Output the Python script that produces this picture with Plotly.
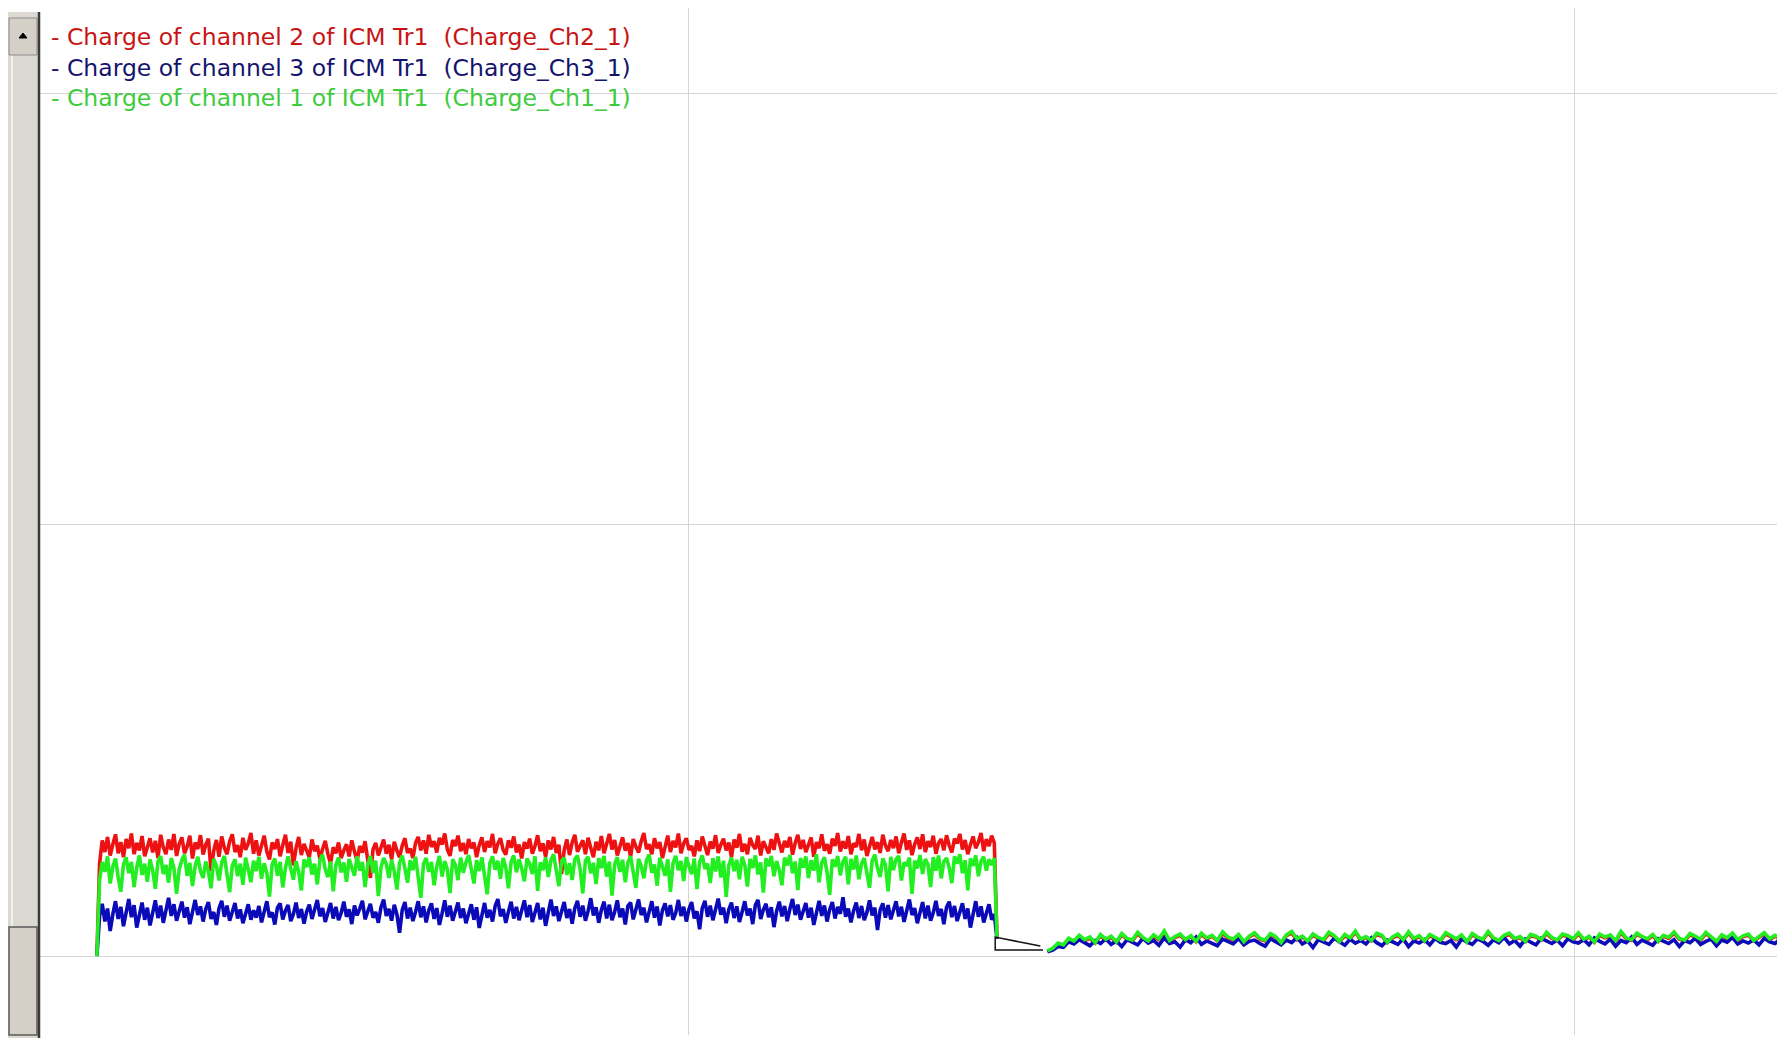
import numpy as np
import plotly.graph_objects as go

# ---- data (charge, arbitrary units) ----
t1_start, t1_step = 331, 3      # first acquisition block
t2_start, t2_step = 1405, 6     # second acquisition block

red1 = [0, 214, 268, 241, 276, 233, 259, 282, 238, 264, 229, 271, 250, 284, 236, 262, 245, 278, 231, 256,
        273, 240, 267, 227, 281, 252, 236, 270, 246, 283, 232, 260, 275, 238, 254, 279, 226, 263, 248, 280,
        235, 258, 272, 197, 244, 269, 230, 277, 251, 236, 266, 282, 241, 257, 229, 274, 246, 261, 285, 237,
        268, 233, 255, 279, 242, 224, 263, 248, 271, 231, 257, 281, 239, 265, 210, 250, 276, 234, 260, 245,
        229, 270, 243, 256, 225, 248, 267, 236, 214, 252, 238, 263, 227, 245, 259, 231, 268, 242, 221, 255,
        240, 266, 228, 181, 247, 262, 233, 251, 270, 237, 258, 224, 265, 244, 229, 256, 273, 239, 249, 227,
        262, 276, 245, 268, 237, 281, 253, 266, 240, 274, 258, 284, 247, 232, 269, 255, 279, 243, 262, 236,
        271, 250, 263, 229, 257, 275, 241, 266, 252, 283, 238, 260, 273, 246, 235, 268, 251, 277, 240, 258,
        226, 264, 249, 272, 237, 255, 280, 243, 261, 230, 268, 247, 276, 239, 258, 190, 245, 270, 234, 263,
        281, 242, 257, 268, 236, 274, 251, 229, 265, 245, 278, 238, 260, 283, 247, 269, 233, 256, 275, 244,
        262, 230, 271, 253, 240, 266, 285, 248, 259, 236, 273, 250, 264, 227, 258, 279, 241, 267, 252, 284,
        238, 261, 273, 246, 255, 231, 268, 243, 277, 256, 234, 265, 249, 280, 239, 258, 272, 245, 263, 229,
        270, 251, 283, 242, 260, 236, 274, 257, 248, 279, 233, 266, 254, 238, 271, 246, 284, 259, 240, 267,
        252, 276, 235, 262, 281, 248, 269, 241, 257, 275, 230, 264, 250, 282, 244, 259, 237, 272, 255, 285,
        242, 266, 249, 278, 236, 261, 253, 283, 245, 270, 232, 258, 276, 247, 264, 239, 281, 256, 243, 269,
        250, 277, 238, 263, 284, 246, 268, 234, 259, 275, 248, 282, 241, 266, 253, 279, 237, 262, 271, 245,
        280, 256, 240, 272, 261, 283, 247, 269, 236, 258, 277, 250, 264, 285, 243, 271, 255, 279, 262, 40]

green1 = [0, 176, 218, 195, 231, 168, 207, 226, 183, 149, 212, 229, 192, 218, 160, 205, 233, 188, 214, 172,
          224, 199, 156, 219, 232, 190, 211, 170, 227, 204, 144, 201, 222, 235, 186, 216, 162, 208, 230, 197,
          181, 219, 196, 157, 225, 209, 175, 217, 232, 189, 148, 210, 224, 185, 214, 165, 228, 200, 171, 221,
          197, 230, 179, 215, 193, 138, 212, 226, 186, 218, 159, 204, 231, 203, 177, 220, 195, 152, 224, 206,
          229, 189, 214, 166, 222, 235, 201, 183, 219, 150, 211, 228, 194, 217, 172, 225, 207, 186, 231, 198,
          218, 160, 210, 232, 193, 221, 139, 205, 227, 213, 181, 223, 196, 154, 216, 233, 203, 170, 222, 199,
          230, 188, 135, 213, 227, 195, 218, 164, 208, 232, 184, 220, 200, 146, 224, 211, 176, 228, 193, 217,
          234, 202, 168, 222, 197, 229, 186, 143, 215, 231, 200, 221, 179, 227, 205, 157, 218, 233, 194, 224,
          203, 173, 226, 214, 190, 231, 151, 217, 199, 229, 183, 222, 236, 197, 162, 220, 228, 188, 215, 176,
          224, 233, 201, 145, 221, 230, 192, 216, 167, 227, 204, 232, 184, 219, 140, 212, 229, 195, 223, 171,
          217, 231, 198, 158, 225, 209, 180, 222, 235, 193, 212, 163, 228, 206, 186, 224, 149, 215, 232, 199,
          220, 174, 229, 208, 190, 226, 155, 218, 233, 202, 214, 169, 227, 196, 231, 182, 221, 137, 210, 228,
          197, 223, 178, 230, 212, 161, 225, 204, 233, 189, 217, 147, 226, 208, 232, 185, 220, 199, 164, 228,
          210, 234, 192, 219, 153, 227, 205, 231, 181, 222, 198, 236, 171, 216, 229, 194, 142, 224, 207, 232,
          187, 219, 230, 166, 225, 201, 233, 178, 214, 227, 196, 158, 221, 235, 204, 183, 226, 211, 150, 230,
          199, 224, 232, 175, 217, 209, 228, 144, 221, 203, 234, 190, 225, 212, 160, 229, 198, 233, 180, 219,
          227, 205, 169, 231, 214, 236, 192, 222, 152, 226, 209, 233, 185, 220, 230, 198, 224, 211, 227, 42]

blue1 = [0, 92, 121, 80, 110, 58, 97, 127, 86, 114, 69, 103, 132, 90, 118, 66, 100, 124, 84, 112,
         71, 98, 129, 88, 117, 77, 107, 135, 93, 120, 82, 101, 126, 89, 113, 74, 105, 130, 95, 115,
         80, 109, 125, 86, 102, 72, 111, 128, 91, 117, 82, 104, 123, 87, 108, 76, 99, 120, 84, 106,
         89, 116, 78, 107, 127, 90, 101, 73, 112, 122, 85, 105, 118, 81, 97, 124, 88, 109, 75, 103,
         119, 86, 107, 130, 92, 111, 79, 104, 123, 87, 114, 83, 100, 126, 91, 108, 74, 117, 94, 110,
         128, 85, 105, 121, 89, 102, 77, 113, 131, 93, 109, 82, 119, 96, 54, 107, 125, 87, 112, 81,
         102, 127, 90, 115, 78, 106, 122, 86, 111, 72, 99, 129, 91, 117, 82, 104, 124, 88, 110, 76,
         101, 120, 84, 113, 65, 98, 123, 89, 107, 80, 116, 132, 92, 109, 77, 103, 126, 87, 114, 83,
         105, 129, 90, 118, 79, 100, 123, 85, 112, 70, 106, 131, 93, 115, 81, 101, 125, 88, 109, 75,
         111, 128, 91, 117, 82, 104, 134, 94, 113, 77, 107, 126, 87, 119, 83, 102, 129, 90, 110, 73,
         116, 124, 85, 108, 131, 95, 112, 78, 103, 127, 89, 115, 71, 106, 122, 92, 118, 84, 100, 130,
         93, 114, 80, 109, 125, 87, 104, 62, 111, 128, 91, 117, 83, 105, 133, 96, 112, 76, 108, 124,
         88, 115, 79, 102, 127, 94, 110, 74, 118, 130, 86, 107, 121, 90, 113, 67, 104, 126, 92, 116,
         81, 109, 132, 95, 119, 84, 106, 123, 89, 112, 72, 103, 128, 93, 117, 80, 108, 125, 87, 114,
         98, 136, 91, 110, 78, 105, 124, 88, 116, 83, 101, 129, 94, 112, 60, 107, 122, 89, 118, 85,
         103, 127, 92, 114, 79, 108, 131, 95, 111, 76, 104, 125, 87, 117, 82, 100, 128, 93, 109, 74,
         113, 126, 90, 116, 81, 105, 122, 86, 110, 66, 99, 127, 91, 115, 78, 102, 120, 84, 97, 40]

green2 = [12, 18, 30, 26, 41, 35, 48, 38, 44, 31, 50, 39, 46, 33, 52, 41, 37, 55, 43, 35,
          49, 40, 58, 36, 45, 51, 38, 47, 34, 53, 42, 48, 36, 56, 44, 39, 50, 33, 46, 54,
          41, 37, 52, 45, 31, 49, 57, 40, 46, 35, 51, 43, 38, 55, 47, 34, 50, 42, 58, 39,
          45, 36, 53, 48, 32, 44, 51, 38, 56, 41, 47, 35, 50, 43, 37, 54, 46, 40, 49, 33,
          52, 44, 39, 57, 42, 36, 48, 53, 41, 45, 34, 50, 46, 38, 55, 43, 37, 51, 47, 40,
          54, 39, 46, 33, 51, 44, 49, 36, 57, 42, 38, 53, 45, 40, 50, 35, 48, 43, 56, 41,
          37, 52, 46, 39, 55, 44, 34, 49, 42, 53, 38, 47, 51, 36, 45, 54, 40, 48, 43, 50]

blue2 = [10, 14, 22, 20, 33, 28, 38, 30, 24, 36, 29, 40, 27, 35, 22, 38, 31, 26, 41, 30,
         36, 25, 42, 29, 33, 21, 38, 31, 44, 27, 35, 30, 24, 39, 33, 28, 41, 26, 34, 37,
         29, 23, 40, 33, 26, 37, 31, 43, 28, 35, 20, 38, 32, 27, 41, 34, 25, 39, 30, 36,
         28, 42, 31, 24, 37, 33, 27, 40, 22, 35, 30, 38, 26, 41, 32, 29, 36, 21, 39, 33,
         27, 40, 34, 25, 38, 31, 43, 28, 36, 23, 39, 32, 26, 41, 35, 29, 37, 24, 40, 33,
         30, 38, 26, 42, 34, 28, 39, 23, 36, 31, 44, 27, 37, 32, 25, 40, 35, 29, 38, 22,
         36, 31, 41, 27, 34, 39, 24, 37, 32, 43, 28, 35, 30, 38, 26, 41, 33, 29, 39, 34]

red2 = [11, 16, 27, 24, 38, 33, 45, 36, 41, 30, 47, 37, 43, 32, 49, 39, 35, 52, 40, 34,
        46, 38, 54, 35, 43, 48, 36, 45, 33, 50, 40, 46, 35, 52, 42, 37, 48, 32, 44, 51,
        39, 35, 49, 43, 30, 47, 53, 38, 44, 34, 48, 41, 36, 52, 45, 33, 47, 40, 55, 37,
        43, 35, 50, 46, 31, 42, 48, 37, 53, 39, 45, 34, 47, 41, 36, 51, 44, 38, 46, 32,
        49, 42, 37, 54, 40, 35, 46, 50, 39, 43, 33, 47, 44, 37, 52, 41, 36, 48, 45, 38,
        51, 37, 44, 32, 48, 42, 46, 35, 54, 40, 36, 50, 43, 38, 47, 34, 46, 41, 53, 39,
        35, 49, 44, 37, 52, 42, 33, 47, 40, 50, 36, 45, 48, 35, 43, 51, 38, 46, 41, 47]

# black marker drawn in the gap between the two blocks
gap_t = [1397, 1346, 1346, 1400]
gap_v = [23, 44, 14, 14]

labels = ["- Charge of channel 2 of ICM Tr1  (Charge_Ch2_1)",
          "- Charge of channel 3 of ICM Tr1  (Charge_Ch3_1)",
          "- Charge of channel 1 of ICM Tr1  (Charge_Ch1_1)"]
label_colors = ["#c81414", "#14146e", "#3ccc3c"]

x_grid = [1000, 2000]
y_grid = [0, 1000, 2000]

# ---- figure geometry ----
# the page body has an 8px margin, so the figure is drawn 8px right and down
OX, OY = 8, 8
W, H = 1785 - OX, 1038 - OY


def px(x):   # screen x -> paper x
    return (x - OX) / W


def py(y):   # screen y -> paper y
    return 1 - (y - OY) / H


def times(start, step, vals):
    return list(start + step * np.arange(len(vals)))


def join(a, b):
    return list(a) + [None] + list(b)


series = [("Charge_Ch2_1", red1, red2, "#ee1111"),
          ("Charge_Ch3_1", blue1, blue2, "#0a0ab8"),
          ("Charge_Ch1_1", green1, green2, "#22ee22")]

fig = go.Figure()
for name, v1, v2, col in series:
    fig.add_trace(go.Scatter(
        x=join(times(t1_start, t1_step, v1), times(t2_start, t2_step, v2)),
        y=join(v1, v2), mode="lines", name=name,
        line=dict(color=col, width=3.6)))
fig.add_trace(go.Scatter(x=gap_t, y=gap_v, mode="lines",
                         line=dict(color="#111111", width=1.5), showlegend=False))

for i, (txt, col) in enumerate(zip(labels, label_colors)):
    fig.add_annotation(text=txt, xref="paper", yref="paper",
                       x=px(49), y=py(37.5 + 30.3 * i),
                       xanchor="left", yanchor="middle", showarrow=False,
                       font=dict(family="DejaVu Sans", size=23.5, color=col))

# scrollbar on the left
shapes = [
    dict(type="rect", xref="paper", yref="paper", x0=px(7), x1=px(40), y0=py(1038), y1=py(12),
         fillcolor="#dcd9d3", line=dict(width=0), layer="above"),
    dict(type="line", xref="paper", yref="paper", x0=px(12), x1=px(12), y0=py(927), y1=py(55),
         line=dict(color="#f2f1ee", width=2), layer="above"),
    dict(type="rect", xref="paper", yref="paper", x0=px(9), x1=px(37), y0=py(55), y1=py(18),
         fillcolor="#d4d0c8", line=dict(color="#8a8a8a", width=1), layer="above"),
    dict(type="path", xref="paper", yref="paper",
         path=f"M {px(19)},{py(38)} L {px(27)},{py(38)} L {px(23)},{py(33)} Z",
         fillcolor="#000000", line=dict(color="#000000", width=1), layer="above"),
    dict(type="rect", xref="paper", yref="paper", x0=px(9), x1=px(37), y0=py(1035), y1=py(927),
         fillcolor="#d4d0c8", line=dict(color="#5a5a5a", width=1.5), layer="above"),
    dict(type="line", xref="paper", yref="paper", x0=px(39), x1=px(39), y0=0, y1=py(12),
         line=dict(color="#3a3a3a", width=2.5), layer="above"),
]
fig.update_layout(shapes=shapes)

# value <-> pixel: grid 0 at y=956, 1000 per 431.5 px; x grid 1000 at 689, 1000 per 885 px
fig.update_layout(
    width=W, height=H,
    margin=dict(l=0, r=0, t=0, b=0),
    paper_bgcolor="white", plot_bgcolor="white",
    showlegend=False,
    xaxis=dict(domain=[px(40), 1], range=[266.7, 2238.4], tickvals=x_grid,
               showticklabels=False, ticks="", showgrid=True, gridcolor="#d6d6d6",
               gridwidth=1, zeroline=False, showline=False),
    yaxis=dict(domain=[py(1035), 1], range=[-183, 2197], tickvals=y_grid,
               showticklabels=False, ticks="", showgrid=True, gridcolor="#d6d6d6",
               gridwidth=1, zeroline=False, showline=False),
)

fig.write_html("out.html")
